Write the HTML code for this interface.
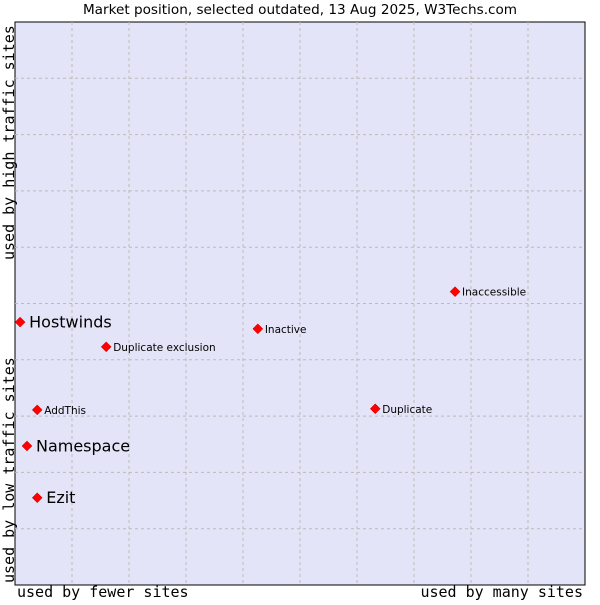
<!DOCTYPE html>
<html><head><meta charset="utf-8"><style>
body{margin:0;background:#fff;}
svg text{font-family:"DejaVu Sans","Liberation Sans",sans-serif;}
.mono{font-family:'DejaVu Sans Mono','Liberation Mono',monospace;}
</style></head><body>
<svg width="600" height="600" xmlns="http://www.w3.org/2000/svg">
<text x="300" y="14" text-anchor="middle" font-size="13.6" fill="#000">Market position, selected outdated, 13 Aug 2025, W3Techs.com</text>
<rect x="15" y="22" width="570" height="563" fill="#e3e4f7" stroke="#000" stroke-width="1"/>
<g id="grid"></g>
<text x="17" y="597" font-size="15" class="mono" style="font-family:'DejaVu Sans Mono','Liberation Mono',monospace">used by fewer sites</text>
<text x="583" y="597" text-anchor="end" font-size="15" style="font-family:'DejaVu Sans Mono','Liberation Mono',monospace">used by many sites</text>
<text transform="translate(14,583) rotate(-90)" font-size="15" style="font-family:'DejaVu Sans Mono','Liberation Mono',monospace">used by low traffic sites</text>
<text transform="translate(14,260) rotate(-90)" font-size="15" style="font-family:'DejaVu Sans Mono','Liberation Mono',monospace">used by high traffic sites</text>
<g id="points"></g>
</svg>
<script>
const names=["Hostwinds","Namespace","Ezit","AddThis","Duplicate exclusion","Inactive","Duplicate","Inaccessible"];
const xValues=[0.9,2.1,3.9,3.9,16.0,42.6,63.2,77.2];
const yValues=[46.7,24.7,15.5,31.1,42.3,45.5,31.3,52.1];
const big=[true,true,true,false,false,false,false,false];
const X0=15,X1=585,Y0=585,Y1=22;
const sx=v=>X0+v/100*(X1-X0), sy=v=>Y0-v/100*(Y0-Y1);
const NS="http://www.w3.org/2000/svg";
const g=document.getElementById('grid');
for(let i=1;i<10;i++){
 const x=X0+i*(X1-X0)/10,y=Y0-i*(Y0-Y1)/10;
 const l1=document.createElementNS(NS,'line');
 l1.setAttribute('x1',x);l1.setAttribute('x2',x);l1.setAttribute('y1',Y1);l1.setAttribute('y2',Y0);
 l1.setAttribute('stroke','#bbb');l1.setAttribute('stroke-dasharray','3,3');
 
 
 g.appendChild(l1);
 const l2=document.createElementNS(NS,'line');
 l2.setAttribute('x1',X0);l2.setAttribute('x2',X1);l2.setAttribute('y1',y);l2.setAttribute('y2',y);
 l2.setAttribute('stroke','#bbb');l2.setAttribute('stroke-dasharray','3,3');
 
 
 g.appendChild(l2);
}
const p=document.getElementById('points');
names.forEach((n,i)=>{
 const x=sx(xValues[i]),y=sy(yValues[i]);
 const d=document.createElementNS(NS,'path');
 d.setAttribute('d',`M${x} ${y-5}L${x+5} ${y}L${x} ${y+5}L${x-5} ${y}Z`);
 d.setAttribute('fill','#f00');d.setAttribute('stroke','#c00');d.setAttribute('stroke-width','0.5');
 
 
 p.appendChild(d);
 const t=document.createElementNS(NS,'text');
 t.setAttribute('x',x+(big[i]?9:7));t.setAttribute('y',y+(big[i]?5.5:4));
 t.setAttribute('font-size',big[i]?'16':'10.5');
 t.textContent=n;
 
 
 p.appendChild(t);
});
</script>
</body></html>
